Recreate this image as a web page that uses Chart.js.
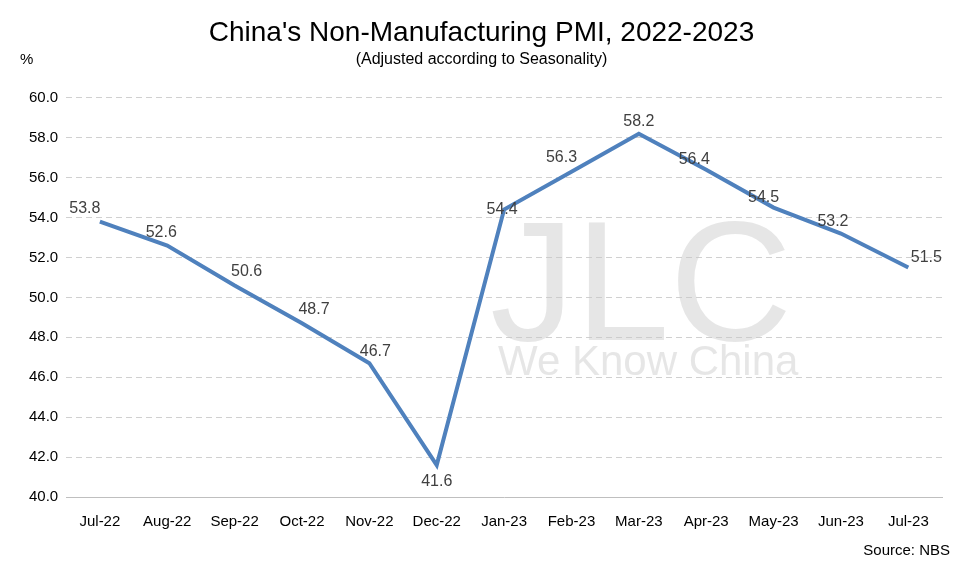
<!DOCTYPE html>
<html>
<head>
<meta charset="utf-8">
<script src="https://cdn.jsdelivr.net/npm/chart.js@4"></script>
<style>
  html, body { margin: 0; padding: 0; background: #fff; }
  #wrap { position: relative; width: 962px; height: 567px; }
</style>
</head>
<body>
<div id="wrap"><canvas id="pmi"></canvas></div>
<script>
const months = ['Jul-22','Aug-22','Sep-22','Oct-22','Nov-22','Dec-22','Jan-23','Feb-23','Mar-23','Apr-23','May-23','Jun-23','Jul-23'];
const pmi = [53.8, 52.6, 50.6, 48.7, 46.7, 41.6, 54.4, 56.3, 58.2, 56.4, 54.5, 53.2, 51.5];

// label offsets relative to point (dx, dy)
const labelShift = [[-15,-13],[-6,-13],[12,-14],[12,-14],[6,-12],[0,17],[-2,0],[-10,-14],[0,-12],[-12,-10],[-10,-10],[-8,-12],[18,-10]];

const extras = {
  id: 'extras',
  beforeDatasetsDraw(chart) {
    const c = chart.ctx;
    c.save();
    c.fillStyle = 'rgba(200,200,200,0.45)';
    c.font = '170px "Liberation Sans", Arial, sans-serif';
    c.fillText('JLC', 490, 340);
    c.font = '42px "Liberation Sans", Arial, sans-serif';
    c.fillText('We Know China', 498, 375);
    c.restore();
  },
  afterDatasetsDraw(chart) {
    const c = chart.ctx;
    const meta = chart.getDatasetMeta(0);
    c.save();
    c.font = '16px "Liberation Sans", Arial, sans-serif';
    c.fillStyle = '#404040';
    c.textAlign = 'center';
    c.textBaseline = 'middle';
    meta.data.forEach((p, i) => {
      c.fillText(pmi[i].toFixed(1), p.x + labelShift[i][0], p.y + labelShift[i][1]);
    });
    c.font = '15px "Liberation Sans", Arial, sans-serif';
    c.fillStyle = '#000';
    c.textAlign = 'left';
    c.fillText('%', 20, 60);
    c.textAlign = 'right';
    c.fillText('Source: NBS', 950, 551);
    c.restore();
  }
};

new Chart(document.getElementById('pmi'), {
  type: 'line',
  data: {
    labels: months,
    datasets: [{
      data: pmi,
      borderColor: '#4f81bd',
      borderWidth: 4,
      pointRadius: 0,
      tension: 0
    }]
  },
  options: {
    responsive: true,
    maintainAspectRatio: false,
    animation: false,
    layout: { padding: { left: 21, right: 20, top: 0, bottom: 28 } },
    plugins: {
      legend: { display: false },
      tooltip: { enabled: false },
      title: {
        display: true,
        text: "China's Non-Manufacturing PMI, 2022-2023",
        color: '#000',
        font: { family: '"Liberation Sans", Arial, sans-serif', size: 28, weight: 'normal' },
        padding: { top: 16, bottom: 0 }
      },
      subtitle: {
        display: true,
        text: '(Adjusted according to Seasonality)',
        color: '#000',
        font: { family: '"Liberation Sans", Arial, sans-serif', size: 16 },
        padding: { top: 0, bottom: 29 }
      }
    },
    scales: {
      x: {
        offset: true,
        grid: { display: false },
        border: { color: '#bfbfbf' },
        ticks: { color: '#000', font: { family: '"Liberation Sans", Arial, sans-serif', size: 15 }, maxRotation: 0, padding: 8 }
      },
      y: {
        min: 40, max: 60,
        ticks: { stepSize: 2, color: '#000', callback: v => v.toFixed(1), font: { family: '"Liberation Sans", Arial, sans-serif', size: 15 }, padding: 8 },
        grid: { color: '#d0d0d0', drawTicks: false },
        border: { display: false, dash: [6, 4] }
      }
    }
  },
  plugins: [extras]
});
</script>
</body>
</html>
